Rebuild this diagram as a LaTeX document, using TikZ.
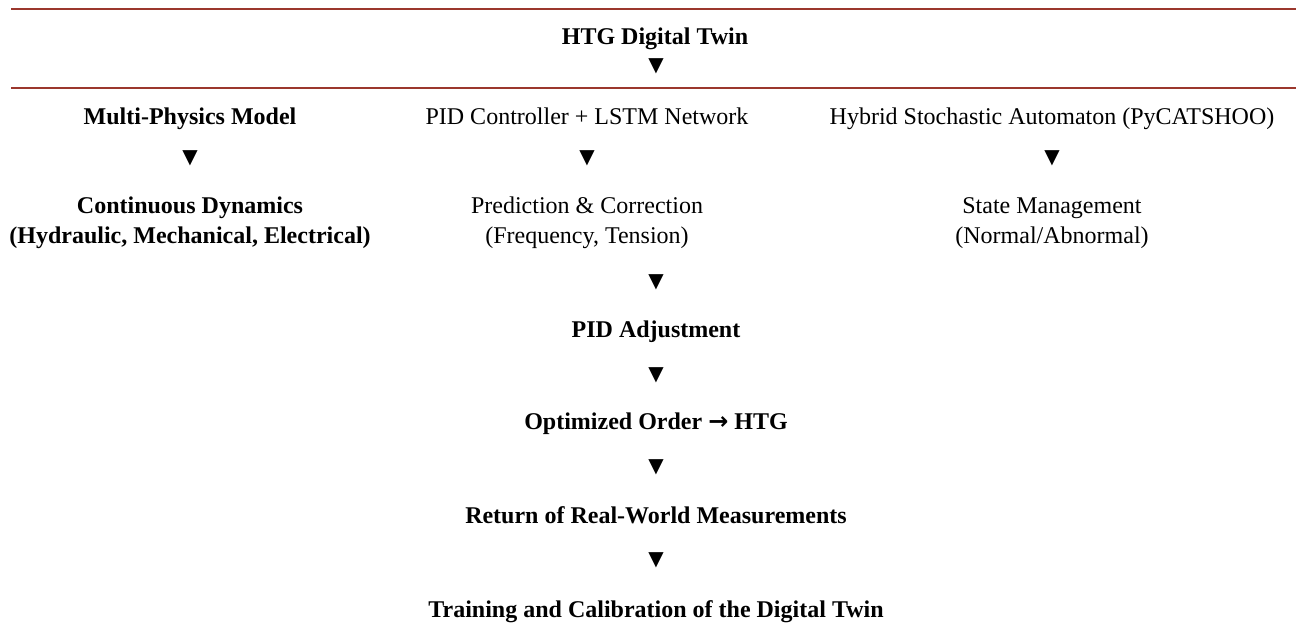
\documentclass[tikz,border=0pt]{standalone}
\usepackage{fontspec}
\setmainfont{Liberation Serif}
\newfontfamily\symfont{DejaVu Sans}
\definecolor{rulered}{RGB}{155,55,45}
\begin{document}
\begin{tikzpicture}[x=1pt,y=-1pt,
  txt/.style={anchor=base,inner sep=0pt,font=\fontsize{24}{30}\selectfont,align=center},
  btxt/.style={txt,font=\fontsize{24}{30}\selectfont\bfseries},
  tri/.style={inner sep=0pt,font=\symfont\fontsize{20}{20}\selectfont},
  rulethick/.style={draw=rulered,line width=2pt},
  rulethin/.style={draw=rulered,line width=1.1pt}]
\useasboundingbox (0,0) rectangle (1296,626);
% rules
\coordinate (r1a) at (11,9.5); \coordinate (r1b) at (1296,9.5);
\coordinate (r2a) at (11,88);  \coordinate (r2b) at (1296,88);
\draw[rulethick] (r1a) -- (r1b);
\draw[rulethin] (r2a) -- (r2b);
% title
\node[btxt] (title) at (655,45) {HTG Digital Twin};
\node[tri] (t0) at (656,66.5) {▼};
% row 1
\node[btxt] (mpm) at (190,124) {Multi-Physics Model};
\node[txt] (pid) at (587,124) {PID Controller + LSTM Network};
\node[txt] (hsa) at (1052,124) {Hybrid Stochastic Automaton (PyCATSHOO)};
\node[tri] (t1) at (190,158.5) {▼};
\node[tri] (t2) at (587,158.5) {▼};
\node[tri] (t3) at (1052,158.5) {▼};
% row 2 (base anchor = last line)
\node[btxt] (cd) at (190,243) {Continuous Dynamics\\(Hydraulic, Mechanical, Electrical)};
\node[txt] (pc) at (587,243) {Prediction \& Correction\\(Frequency, Tension)};
\node[txt] (sm) at (1052,243) {State Management\\(Normal/Abnormal)};
% lower column
\node[tri] (t4) at (656,282) {▼};
\node[btxt] (adj) at (656,337) {PID Adjustment};
\node[tri] (t5) at (656,375) {▼};
\node[btxt] (opt) at (656,429) {Optimized Order {\symfont\bfseries\fontsize{24}{24}\selectfont →} HTG};
\node[tri] (t6) at (656,467.5) {▼};
\node[btxt] (ret) at (656,523) {Return of Real-World Measurements};
\node[tri] (t7) at (656,560) {▼};
\node[btxt] (trn) at (656,617) {Training and Calibration of the Digital Twin};
\end{tikzpicture}
\end{document}
